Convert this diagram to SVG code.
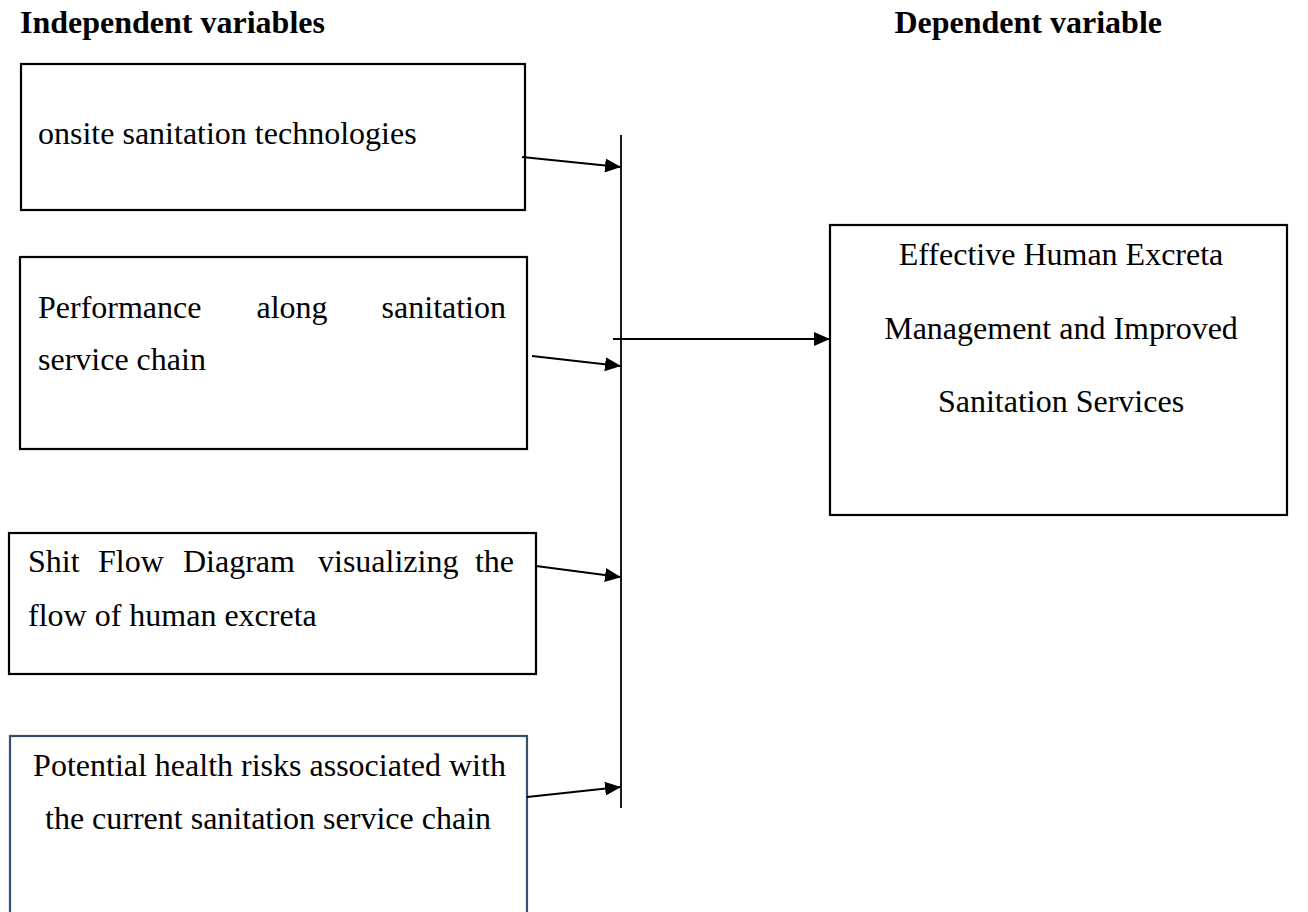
<svg xmlns="http://www.w3.org/2000/svg" width="1308" height="912" viewBox="0 0 1308 912">
<defs>
<marker id="ah" markerUnits="userSpaceOnUse" markerWidth="16" markerHeight="14" refX="15" refY="7" orient="auto">
<path d="M0,0 L16,7 L0,14 Z" fill="#000"/>
</marker>
<style>
.t{font-family:"Liberation Serif","Times New Roman",serif;font-size:32px;fill:#000}
.h{font-family:"Liberation Serif","Times New Roman",serif;font-size:32px;font-weight:bold;fill:#000}
.box{fill:#fff;stroke:#000;stroke-width:2.2}
.c{stroke:#000;stroke-width:1.8;fill:none}
</style>
</defs>
<rect width="1308" height="912" fill="#fff"/>
<g id="titles">
<text class="h" x="20" y="33">Independent variables</text>
<text class="h" x="1162" y="33" text-anchor="end">Dependent variable</text>
</g>
<g id="n1">
<rect class="box" x="21" y="64" width="504" height="146"/>
<text class="t" x="38" y="144">onsite sanitation technologies</text>
</g>
<g id="n2">
<rect class="box" x="20" y="257" width="507" height="192"/>
<text class="t" x="38" y="318">Performance</text>
<text class="t" x="292" y="318" text-anchor="middle">along</text>
<text class="t" x="506" y="318" text-anchor="end">sanitation</text>
<text class="t" x="38" y="370">service chain</text>
</g>
<g id="n3">
<rect class="box" x="9" y="533" width="527" height="141"/>
<text class="t" x="28" y="572">Shit</text>
<text class="t" x="98" y="572">Flow</text>
<text class="t" x="183" y="572">Diagram</text>
<text class="t" x="318" y="572">visualizing</text>
<text class="t" x="514" y="572" text-anchor="end">the</text>
<text class="t" x="28" y="626">flow of human excreta</text>
</g>
<g id="n4">
<rect x="10" y="736" width="517" height="200" fill="#fff" stroke="#34506e" stroke-width="2.2"/>
<text class="t" x="269.5" y="776" text-anchor="middle">Potential health risks associated with</text>
<text class="t" x="268" y="829" text-anchor="middle">the current sanitation service chain</text>
</g>
<g id="n5">
<rect class="box" x="830" y="225" width="457" height="290"/>
<text class="t" x="1061" y="265" text-anchor="middle">Effective Human Excreta</text>
<text class="t" x="1061" y="339" text-anchor="middle">Management and Improved</text>
<text class="t" x="1061" y="412" text-anchor="middle">Sanitation Services</text>
</g>
<g id="connectors">
<line class="c" x1="621" y1="135" x2="621" y2="808" stroke-width="2.2"/>
<line class="c" x1="522" y1="157" x2="620" y2="167" marker-end="url(#ah)"/>
<line class="c" x1="532" y1="356" x2="620" y2="366" marker-end="url(#ah)"/>
<line class="c" x1="536" y1="566" x2="620" y2="577" marker-end="url(#ah)"/>
<line class="c" x1="527" y1="797" x2="620" y2="787" marker-end="url(#ah)"/>
<line class="c" x1="613" y1="339" x2="829" y2="339" marker-end="url(#ah)"/>
</g>
</svg>
